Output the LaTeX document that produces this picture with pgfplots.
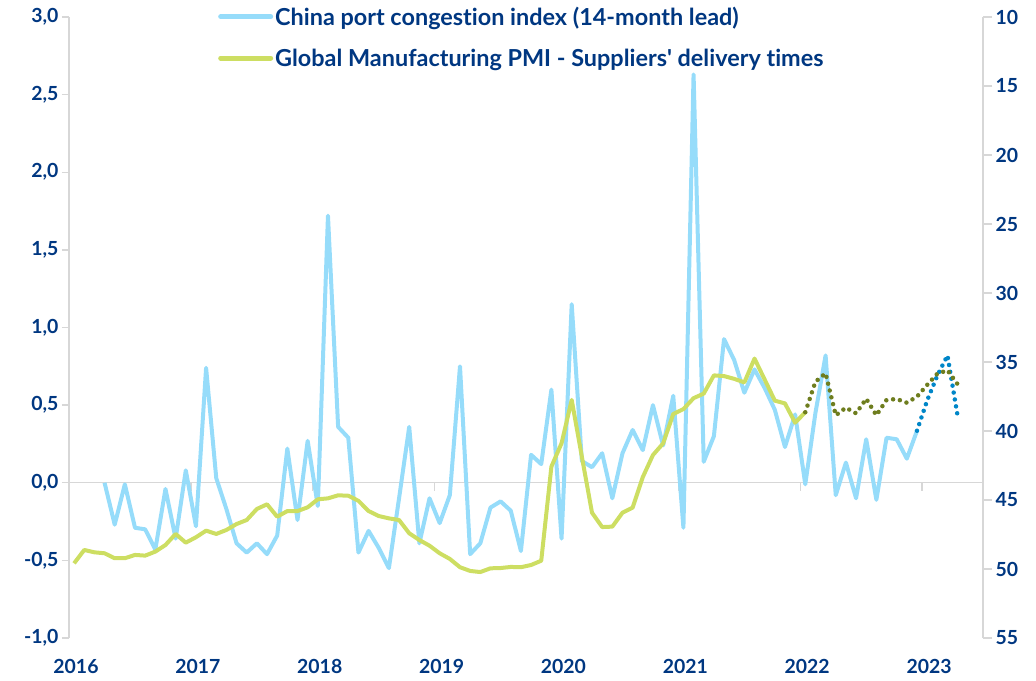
\documentclass[border=0pt]{standalone}
\usepackage{pgfplots}
\pgfplotsset{compat=1.18}
\usepackage{fontspec}
\setmainfont{Lato}[Ligatures=NoCommon]
\newfontfamily\legfont{Lato}[Ligatures=NoCommon]

\definecolor{navy}{RGB}{0,55,129}
\definecolor{portblue}{RGB}{150,220,250}
\definecolor{pmigreen}{RGB}{205,222,98}
\definecolor{olivedot}{RGB}{110,125,30}
\definecolor{bluedot}{RGB}{0,134,200}
\definecolor{axgrey}{RGB}{215,215,215}

\pgfplotsset{
  base/.style={
    width=914bp, height=621bp, scale only axis,
    xmin=0, xmax=90,
    tick label style={font=\fontsize{19.5}{22}\selectfont\bfseries, text=navy},
    /pgf/number format/assume math mode=true,
    tick align=outside,
    y axis line style={draw=axgrey, line width=1.3bp},
    y tick style={draw=axgrey, line width=1.3bp},
  },
}

\begin{document}
\begin{tikzpicture}
% left axis: port congestion index
\begin{axis}[base,
  ymin=-1, ymax=3, ytick={-1,-0.5,...,3},
  axis y line*=left, axis x line*=bottom,
  x axis line style={draw=none},
  x tick style={draw=none},
  major tick length=7bp,
  xtick={0,12,24,36,48,60,72,84},
  xticklabels={2016,2017,2018,2019,2020,2021,2022,2023},
  xticklabel style={xshift=7bp, yshift=-11bp},
  yticklabel style={/pgf/number format/.cd, fixed, fixed zerofill, precision=1, use comma},
  legend style={at={(axis description cs:0.163,1.02)}, anchor=north west,
    draw=none, fill=none, inner sep=0pt,
    font=\legfont\fontsize{23.5}{26}\selectfont\bfseries, text=navy,
    row sep=18bp,
    /tikz/every even column/.append style={column sep=6bp}},
  legend cell align=left,
  legend image code/.code={\draw[#1, line width=5bp, line cap=round] (0bp,0bp) -- (50bp,0bp);},
]
\draw[axgrey, line width=1.3bp] (axis cs:0,0) -- (axis cs:90,0);
\pgfplotsinvokeforeach{12,24,36,48,60,72,84}{
  \draw[axgrey, line width=1.3bp] (axis cs:#1,0) -- ([yshift=-8bp]axis cs:#1,0);
}

\addplot[portblue, line width=4bp, line join=round] coordinates {
(3.5,0.00) (4.5,-0.27) (5.5,-0.01) (6.5,-0.29) (7.5,-0.30) (8.5,-0.43)
(9.5,-0.04) (10.5,-0.36) (11.5,0.08) (12.5,-0.28) (13.5,0.74) (14.5,0.03)
(15.5,-0.17) (16.5,-0.39) (17.5,-0.45) (18.5,-0.39) (19.5,-0.46) (20.5,-0.34)
(21.5,0.22) (22.5,-0.24) (23.5,0.27) (24.5,-0.15) (25.5,1.72) (26.5,0.36)
(27.5,0.29) (28.5,-0.45) (29.5,-0.31) (30.5,-0.42) (31.5,-0.55) (32.5,-0.10)
(33.5,0.36) (34.5,-0.39) (35.5,-0.10) (36.5,-0.26) (37.5,-0.08) (38.5,0.75)
(39.5,-0.46) (40.5,-0.39) (41.5,-0.16) (42.5,-0.12) (43.5,-0.18) (44.5,-0.44)
(45.5,0.18) (46.5,0.12) (47.5,0.60) (48.5,-0.36) (49.5,1.15) (50.5,0.14)
(51.5,0.10) (52.5,0.19) (53.5,-0.10) (54.5,0.19) (55.5,0.34) (56.5,0.21)
(57.5,0.50) (58.5,0.24) (59.5,0.56) (60.5,-0.29) (61.5,2.63) (62.5,0.135)
(63.5,0.30) (64.5,0.925) (65.5,0.79) (66.5,0.58) (67.5,0.73) (68.5,0.61)
(69.5,0.47) (70.5,0.23) (71.5,0.44) (72.5,-0.01) (73.5,0.45) (74.5,0.82)
(75.5,-0.08) (76.5,0.13) (77.5,-0.10) (78.5,0.28) (79.5,-0.11) (80.5,0.29)
(81.5,0.28) (82.5,0.155) (83.5,0.335)
};
\addlegendentry{China port congestion index (14-month lead)}
\addlegendimage{pmigreen}
\addlegendentry{Global Manufacturing PMI - Suppliers' delivery times}

% projection
\addplot[bluedot, line width=4.5bp, line cap=round, dash pattern=on 0pt off 7bp, forget plot] coordinates {
(83.5,0.335) (84.5,0.53) (85.5,0.69) (86.5,0.82) (87.5,0.43)
};
\end{axis}

% right axis: PMI suppliers' delivery times, inverted
\begin{axis}[base,
  ymin=10, ymax=55, y dir=reverse, ytick={10,15,...,55},
  axis y line*=right, hide x axis,
  major tick length=9bp,
]
\addplot[pmigreen, line width=4bp, line join=round] coordinates {
(0.5,49.59) (1.5,48.62) (2.5,48.79) (3.5,48.86) (4.5,49.22) (5.5,49.22)
(6.5,48.98) (7.5,49.03) (8.5,48.74) (9.5,48.26) (10.5,47.46) (11.5,48.09)
(12.5,47.70) (13.5,47.22) (14.5,47.46) (15.5,47.17) (16.5,46.74) (17.5,46.45)
(18.5,45.65) (19.5,45.31) (20.5,46.21) (21.5,45.80) (22.5,45.80) (23.5,45.53)
(24.5,44.95) (25.5,44.88) (26.5,44.66) (27.5,44.69) (28.5,45.06) (29.5,45.80)
(30.5,46.16) (31.5,46.33) (32.5,46.45) (33.5,47.41) (34.5,47.90) (35.5,48.31)
(36.5,48.86) (37.5,49.27) (38.5,49.87) (39.5,50.14) (40.5,50.22) (41.5,49.95)
(42.5,49.93) (43.5,49.85) (44.5,49.87) (45.5,49.71) (46.5,49.40) (47.5,42.58)
(48.5,40.89) (49.5,37.75) (50.5,41.86) (51.5,45.92) (52.5,46.96) (53.5,46.93)
(54.5,45.92) (55.5,45.55) (56.5,43.34) (57.5,41.74) (58.5,40.90) (59.5,38.77)
(60.5,38.41) (61.5,37.62) (62.5,37.29) (63.5,35.97) (64.5,36.02) (65.5,36.22)
(66.5,36.48) (67.5,34.75) (68.5,36.27) (69.5,37.80) (70.5,38.00) (71.5,39.40)
(72.5,38.64)
};
\addplot[olivedot, line width=4.5bp, line cap=round, dash pattern=on 0pt off 7bp] coordinates {
(72.5,38.64) (73.5,36.43) (74.5,35.82) (75.5,38.86) (76.5,38.31) (77.5,38.72)
(78.5,37.66) (79.5,38.86) (80.5,37.75) (81.5,37.68) (82.5,37.95) (83.5,37.51)
(84.5,36.66) (85.5,35.85) (86.5,35.60) (87.5,36.61)
};
\end{axis}
\path[use as bounding box] (-69bp,-43bp) rectangle (967bp,638bp);
\end{tikzpicture}
\end{document}
